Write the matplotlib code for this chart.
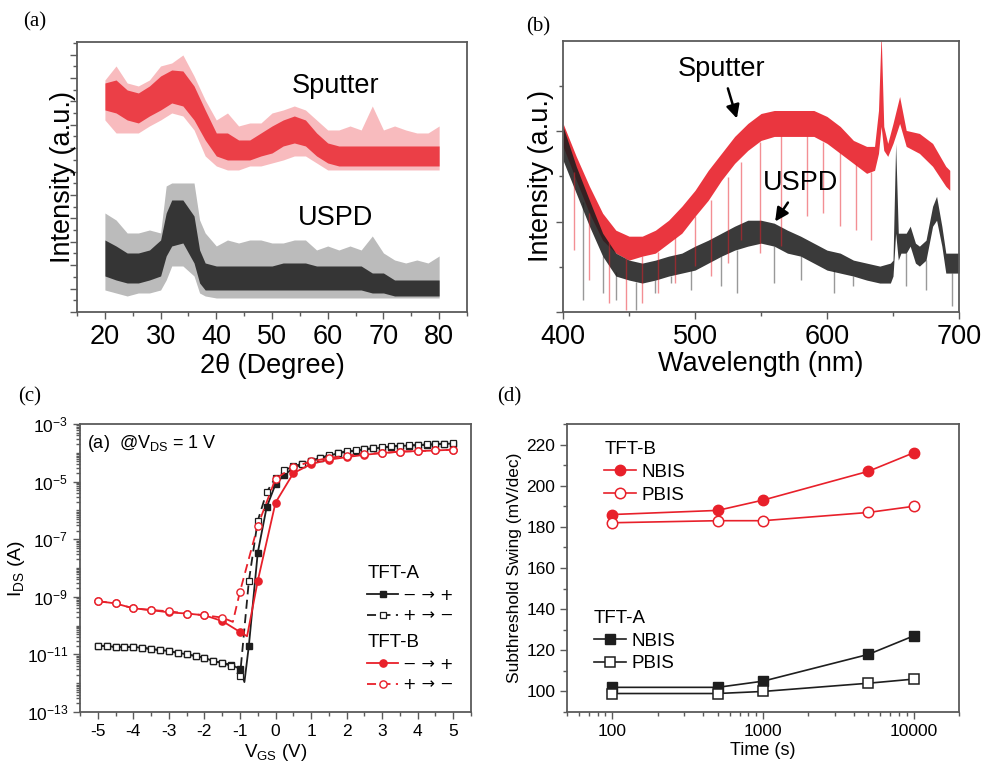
import numpy as np
import matplotlib.pyplot as plt
from matplotlib.ticker import MultipleLocator, LogLocator, NullFormatter

plt.rcParams['font.family'] = ['Liberation Sans', 'DejaVu Sans']
plt.rcParams['mathtext.default'] = 'regular'
plt.rcParams['axes.unicode_minus'] = False

RED = '#e8202a'
BLK = '#1e1e1e'
FRAME = '#5a5a5a'

# ---------------- (a) XRD ----------------
xrd_x_sp = [20, 22, 24, 26, 28, 30, 32, 34, 36, 38, 40, 42, 44, 46, 48, 50,
            52, 54, 56, 58, 60, 62, 64, 66, 68, 70, 72, 74, 76, 78, 80]
xrd_sp_core_hi = [229, 232, 222, 219, 226, 236, 242, 241, 226, 202,
                  179, 179, 172, 172, 179, 186, 192, 196, 192, 179,
                  169, 166, 166, 166, 166, 166, 166, 166, 166, 166, 166]
xrd_sp_core_lo = [202, 199, 192, 189, 196, 202, 209, 206, 192, 172,
                  156, 152, 152, 152, 156, 159, 166, 169, 166, 156,
                  149, 146, 146, 146, 146, 146, 146, 146, 146, 146, 146]
xrd_sp_out_hi = [232, 246, 229, 226, 232, 246, 249, 257, 236, 212,
                 192, 199, 186, 189, 189, 199, 202, 206, 202, 192,
                 182, 182, 186, 182, 206, 182, 186, 182, 179, 179, 186]
xrd_sp_out_lo = [192, 179, 179, 179, 186, 192, 199, 196, 182, 156,
                 146, 142, 142, 146, 146, 149, 152, 156, 156, 149,
                 142, 142, 142, 142, 142, 142, 142, 142, 142, 142, 142]

xrd_x_us = [20, 22, 24, 26, 28, 30, 31, 32, 34, 36, 37, 38, 40, 42, 44, 46,
            48, 50, 52, 54, 56, 58, 60, 62, 64, 66, 68, 70, 72, 74, 76, 78, 80]
xrd_us_core_hi = [72, 66, 59, 59, 62, 72, 99, 112, 112, 96, 62, 49,
                  46, 46, 46, 46, 46, 46, 49, 49, 49, 46, 46, 46, 46, 46,
                  39, 39, 32, 32, 32, 32, 32]
xrd_us_core_lo = [36, 32, 29, 29, 32, 36, 56, 66, 69, 49, 29, 22,
                  22, 22, 22, 22, 22, 22, 22, 22, 22, 22, 22, 22, 22, 22,
                  19, 19, 16, 16, 16, 16, 16]
xrd_us_out_hi = [99, 92, 79, 79, 82, 79, 126, 129, 129, 129, 92, 79,
                 66, 72, 69, 72, 72, 69, 69, 72, 72, 62, 66, 62, 66, 62,
                 76, 59, 52, 49, 52, 49, 56]
xrd_us_out_lo = [22, 19, 16, 19, 19, 22, 32, 46, 46, 36, 19, 16,
                 14, 14, 14, 14, 14, 14, 14, 14, 14, 14, 14, 14, 14, 14,
                 14, 14, 14, 14, 14, 14, 14]

# ---------------- (b) PL ----------------
pl_x_sp = [400, 410, 420, 430, 440, 450, 460, 470, 480, 490, 500, 510, 520,
           530, 540, 550, 560, 570, 580, 590, 600, 610, 620, 630, 636, 639,
           641, 643, 646, 650, 655, 660, 670, 680, 690, 693]
pl_sp_hi = [189, 156, 126, 99, 82, 76, 76, 82, 92, 106, 122, 142, 159,
            176, 189, 199, 202, 202, 202, 202, 196, 186, 172, 166, 166, 202,
            280, 186, 169, 189, 216, 182, 179, 169, 146, 142]
pl_sp_lo = [166, 132, 99, 72, 59, 52, 56, 59, 69, 79, 96, 112, 132,
            149, 162, 172, 176, 176, 176, 176, 169, 159, 149, 139, 142, 159,
            186, 162, 156, 169, 189, 166, 159, 146, 126, 122]
pl_sp_dip_x = [408, 420, 435, 448, 460, 472, 485, 500, 512, 525, 535, 549,
               565, 585, 597, 610, 622, 633]
pl_sp_dip_lo = [62, 32, 9, 2, 9, 19, 29, 46, 36, 49, 72, 59, 66, 96, 99, 86, 82, 72]
pl_sp_dip_hi = [140, 99, 70, 54, 56, 60, 75, 96, 112, 135, 150, 170, 176,
                176, 170, 160, 149, 140]

pl_x_us = [400, 410, 420, 430, 440, 450, 460, 470, 480, 490, 500, 510, 520,
           530, 540, 550, 560, 570, 580, 590, 600, 610, 620, 630, 640, 648,
           650, 652, 654, 656, 660, 663, 667, 670, 675, 680, 683, 687, 690,
           695, 700]
pl_us_hi = [186, 146, 112, 79, 59, 52, 49, 52, 56, 59, 66, 72, 79,
            86, 92, 92, 89, 82, 76, 69, 62, 59, 52, 49, 46, 49,
            52, 169, 79, 79, 79, 86, 69, 66, 72, 106, 116, 86, 59, 59, 59]
pl_us_lo = [152, 119, 86, 56, 36, 32, 29, 32, 36, 39, 42, 49, 56,
            62, 66, 69, 66, 59, 56, 49, 42, 39, 36, 32, 29, 29,
            36, 79, 52, 59, 59, 66, 49, 46, 52, 86, 92, 66, 39, 39, 39]
pl_us_dip_x = [415, 430, 440, 455, 470, 482, 497, 520, 532, 560, 580, 605,
               620, 660, 675, 695]
pl_us_dip_lo = [12, 19, 12, 2, 19, 29, 22, 26, 19, 29, 32, 19, 26, 26, 22, 6]
pl_us_dip_hi = [110, 56, 40, 30, 32, 36, 42, 56, 62, 66, 56, 42, 36, 59, 52, 39]

# ---------------- (c) transfer curves (log10 I) ----------------
vA = [-5, -4.75, -4.5, -4.25, -4, -3.75, -3.5, -3.25, -3, -2.75, -2.5, -2.25,
      -2, -1.75, -1.5, -1.25, -1, -0.875, -0.75, -0.5, -0.25, 0, 0.25, 0.5,
      0.75, 1, 1.25, 1.5, 1.75, 2, 2.25, 2.5, 2.75, 3, 3.25, 3.5, 3.75, 4,
      4.25, 4.5, 4.75, 5]
logA_fwd = [-10.70, -10.71, -10.74, -10.74, -10.74, -10.77, -10.81, -10.85,
            -10.88, -10.95, -10.99, -11.06, -11.11, -11.24, -11.29, -11.36,
            -11.50, -11.96, -10.70, -7.47, -5.89, -5.09, -4.76, -4.53, -4.40,
            -4.29, -4.19, -4.10, -4.02, -3.96, -3.93, -3.88, -3.85, -3.82,
            -3.79, -3.76, -3.75, -3.74, -3.72, -3.71, -3.69, -3.68]
vA_rev = [-5, -4.75, -4.5, -4.25, -4, -3.75, -3.5, -3.25, -3, -2.75, -2.5,
          -2.25, -2, -1.75, -1.5, -1.25, -1, -0.75, -0.5, -0.25, 0, 0.25, 0.5,
          0.75, 1, 1.25, 1.5, 1.75, 2, 2.25, 2.5, 2.75, 3, 3.25, 3.5, 3.75, 4,
          4.25, 4.5, 4.75, 5]
logA_rev = [-10.70, -10.71, -10.74, -10.74, -10.74, -10.77, -10.81, -10.85,
            -10.88, -10.95, -10.99, -11.06, -11.11, -11.24, -11.29, -11.40,
            -11.75, -8.45, -6.36, -5.37, -4.86, -4.61, -4.47, -4.38, -4.28,
            -4.18, -4.09, -4.01, -3.95, -3.92, -3.87, -3.84, -3.81, -3.78,
            -3.75, -3.74, -3.73, -3.71, -3.70, -3.68, -3.67]

vB_fwd = [-5, -4.5, -4, -3.5, -3, -2.5, -2, -1.5, -1, -0.8, -0.5, 0, 0.5, 1,
          1.5, 2, 2.5, 3, 3.5, 4, 4.5, 5]
logB_fwd = [-9.15, -9.23, -9.40, -9.46, -9.54, -9.58, -9.64, -9.84, -10.22,
            -10.37, -8.45, -5.73, -4.71, -4.39, -4.24, -4.15, -4.07, -4.01,
            -3.96, -3.94, -3.92, -3.89]
vB_rev = [-5, -4.5, -4, -3.5, -3, -2.5, -2, -1.5, -1.2, -1, -0.5, 0, 0.5, 1,
          1.5, 2, 2.5, 3, 3.5, 4, 4.5, 5]
logB_rev = [-9.15, -9.23, -9.40, -9.46, -9.50, -9.58, -9.64, -9.72, -9.87,
            -8.82, -6.53, -4.90, -4.50, -4.30, -4.18, -4.10, -4.03, -4.01,
            -3.96, -3.94, -3.92, -3.89]

# ---------------- (d) subthreshold swing ----------------
time_s = [100, 500, 1000, 5000, 10000]
ssB_nbis = [186, 188, 193, 207, 216]
ssB_pbis = [182, 183, 183, 187, 190]
ssA_nbis = [102, 102, 105, 118, 127]
ssA_pbis = [99, 99, 100, 104, 106]


def style_axes(ax):
    for sp in ax.spines.values():
        sp.set_color(FRAME)
        sp.set_linewidth(1.3)
    ax.tick_params(which='both', direction='out', color=FRAME, width=1.0,
                   top=False, right=False)
    ax.tick_params(which='major', length=5)
    ax.tick_params(which='minor', length=3)


fig = plt.figure(figsize=(9.84, 7.63), dpi=100)

# ---- (a)
ax = fig.add_axes([0.0783, 0.5911, 0.3963, 0.3539])
ax.fill_between(xrd_x_sp, xrd_sp_out_lo, xrd_sp_out_hi, color=RED, alpha=0.3, lw=0)
ax.fill_between(xrd_x_sp, xrd_sp_core_lo, xrd_sp_core_hi, color=RED, alpha=0.8, lw=0)
ax.fill_between(xrd_x_us, xrd_us_out_lo, xrd_us_out_hi, color=BLK, alpha=0.3, lw=0)
ax.fill_between(xrd_x_us, xrd_us_core_lo, xrd_us_core_hi, color=BLK, alpha=0.85, lw=0)
ax.set_xlim(15, 85)
ax.set_ylim(0, 270)
ax.xaxis.set_major_locator(MultipleLocator(10))
ax.xaxis.set_minor_locator(MultipleLocator(5))
ax.yaxis.set_major_locator(MultipleLocator(23.4))
ax.yaxis.set_minor_locator(MultipleLocator(11.7))
ax.set_yticklabels([])
style_axes(ax)
ax.tick_params(labelsize=19.5)
ax.set_xlabel('2θ (Degree)', fontsize=19.5, labelpad=2)
ax.set_ylabel('Intensity (a.u.)', fontsize=19.5, labelpad=-8)
ax.text(61.4, 226, 'Sputter', fontsize=19.5, ha='center', va='center')
ax.text(61.4, 94, 'USPD', fontsize=19.5, ha='center', va='center')

# ---- (b)
ax = fig.add_axes([0.5722, 0.5911, 0.4024, 0.3552])
ax.vlines(pl_sp_dip_x, pl_sp_dip_lo, pl_sp_dip_hi, color=RED, alpha=0.5, lw=1)
ax.fill_between(pl_x_sp, pl_sp_lo, pl_sp_hi, color=RED, alpha=0.9, lw=0)
ax.vlines(pl_us_dip_x, pl_us_dip_lo, pl_us_dip_hi, color=BLK, alpha=0.45, lw=1)
ax.fill_between(pl_x_us, pl_us_lo, pl_us_hi, color=BLK, alpha=0.88, lw=0)
ax.set_xlim(400, 700)
ax.set_ylim(0, 271.7)
ax.xaxis.set_major_locator(MultipleLocator(100))
ax.xaxis.set_minor_locator(MultipleLocator(50))
ax.yaxis.set_major_locator(MultipleLocator(90.6))
ax.yaxis.set_minor_locator(MultipleLocator(45.3))
ax.set_yticklabels([])
style_axes(ax)
ax.tick_params(labelsize=19.5)
ax.set_xlabel('Wavelength (nm)', fontsize=19.5, labelpad=1)
ax.set_ylabel('Intensity (a.u.)', fontsize=19.5, labelpad=-2)
arrow = dict(arrowstyle='-|>', color='black', lw=1.8, mutation_scale=20,
             shrinkA=3, shrinkB=0)
ax.annotate('Sputter', xy=(531.7, 194), xytext=(520.4, 244), fontsize=19.5,
            ha='center', va='center', arrowprops=arrow)
ax.annotate('USPD', xy=(560.7, 90.7), xytext=(580.2, 129), fontsize=19.5,
            ha='center', va='center', arrowprops=arrow)

# ---- (c)
ax = fig.add_axes([0.0813, 0.0668, 0.3974, 0.3775])
iA = [10 ** v for v in logA_fwd]
iAr = [10 ** v for v in logA_rev]
iB = [10 ** v for v in logB_fwd]
iBr = [10 ** v for v in logB_rev]
mk_A = [i for i, v in enumerate(vA) if v != -0.875]
mk_B = [i for i, v in enumerate(vB_fwd) if v != -0.8]
mk_Br = [i for i, v in enumerate(vB_rev) if v != -1.2]
hA, = ax.plot(vA, iA, '-', color=BLK, lw=1.3, marker='s', ms=4.8,
              mfc=BLK, mec=BLK, markevery=mk_A)
hAr, = ax.plot(vA_rev, iAr, color=BLK, lw=1.3, ls=(0, (5, 3)), marker='s',
               ms=4.8, mfc='white', mec=BLK, mew=0.9)
hB, = ax.plot(vB_fwd, iB, '-', color=RED, lw=1.3, marker='o', ms=5.2,
              mfc=RED, mec=RED, markevery=mk_B)
hBr, = ax.plot(vB_rev, iBr, color=RED, lw=1.3, ls=(0, (5, 3)), marker='o',
               ms=5.2, mfc='white', mec=RED, mew=1.0, markevery=mk_Br)
ax.set_yscale('log')
ax.set_xlim(-5.5, 5.5)
ax.set_ylim(1e-13, 1e-3)
ax.set_yticks([1e-13, 1e-11, 1e-9, 1e-7, 1e-5, 1e-3])
ax.yaxis.set_minor_locator(LogLocator(base=10, subs=np.arange(1, 10), numticks=30))
ax.yaxis.set_minor_formatter(NullFormatter())
ax.xaxis.set_major_locator(MultipleLocator(1))
ax.xaxis.set_minor_locator(MultipleLocator(0.5))
style_axes(ax)
ax.tick_params(labelsize=12.5)
ax.set_xlabel('V$_{GS}$ (V)', fontsize=13.5, labelpad=2)
ax.set_ylabel('I$_{DS}$ (A)', fontsize=14, labelpad=0)
ax.text(0.018, 0.934, '(a)  @V$_{DS}$ = 1 V', transform=ax.transAxes,
        fontsize=13, ha='left', va='center')
kw = dict(loc='upper left', frameon=False, alignment='left',
          prop={'family': 'DejaVu Sans', 'size': 11.5},
          title_fontsize=13.5, handlelength=1.9, handletextpad=0.3,
          labelspacing=0.35, borderaxespad=0, borderpad=0)
leg1 = ax.legend([hA, hAr], ['− → +', '+ → −'], title='TFT-A',
                 bbox_to_anchor=(0.735, 0.51), **kw)
ax.add_artist(leg1)
ax.legend([hB, hBr], ['− → +', '+ → −'], title='TFT-B',
          bbox_to_anchor=(0.735, 0.27), **kw)

# ---- (d)
ax = fig.add_axes([0.5762, 0.0668, 0.3984, 0.3775])
h1, = ax.plot(time_s, ssB_nbis, '-o', color=RED, lw=1.2, ms=7.5, mfc=RED, mec=RED)
h2, = ax.plot(time_s, ssB_pbis, '-o', color=RED, lw=1.2, ms=7.5, mfc='white', mec=RED, mew=1.1)
h3, = ax.plot(time_s, ssA_nbis, '-s', color=BLK, lw=1.2, ms=7, mfc=BLK, mec=BLK)
h4, = ax.plot(time_s, ssA_pbis, '-s', color=BLK, lw=1.2, ms=7, mfc='white', mec=BLK, mew=1.1)
ax.set_xscale('log')
ax.set_xlim(50, 20000)
ax.set_ylim(90, 230)
ax.set_xticks([100, 1000, 10000])
ax.set_xticklabels(['100', '1000', '10000'])
ax.xaxis.set_minor_locator(LogLocator(base=10, subs=np.arange(2, 10), numticks=30))
ax.xaxis.set_minor_formatter(NullFormatter())
ax.yaxis.set_major_locator(MultipleLocator(20))
ax.yaxis.set_minor_locator(MultipleLocator(10))
style_axes(ax)
ax.tick_params(labelsize=12.5)
ax.set_xlabel('Time (s)', fontsize=13, labelpad=2)
ax.set_ylabel('Subthreshold Swing (mV/dec)', fontsize=12.5, labelpad=3)
kw = dict(loc='upper left', frameon=False, alignment='left', fontsize=13.5,
          title_fontsize=13.5, handlelength=1.7, handletextpad=0.3,
          labelspacing=0.3, borderaxespad=0, borderpad=0)
leg1 = ax.legend([h1, h2], ['NBIS', 'PBIS'], title='TFT-B',
                 bbox_to_anchor=(0.095, 0.94), **kw)
ax.add_artist(leg1)
ax.legend([h3, h4], ['NBIS', 'PBIS'], title='TFT-A',
          bbox_to_anchor=(0.068, 0.355), **kw)

# panel labels
for lbl, x, y in [('(a)', 0.0356, 0.971), ('(b)', 0.547, 0.965),
                  ('(c)', 0.0305, 0.480), ('(d)', 0.518, 0.480)]:
    fig.text(x, y, lbl, family='Liberation Serif', fontsize=15,
             ha='center', va='center')

fig.savefig('out.png', dpi=100)
